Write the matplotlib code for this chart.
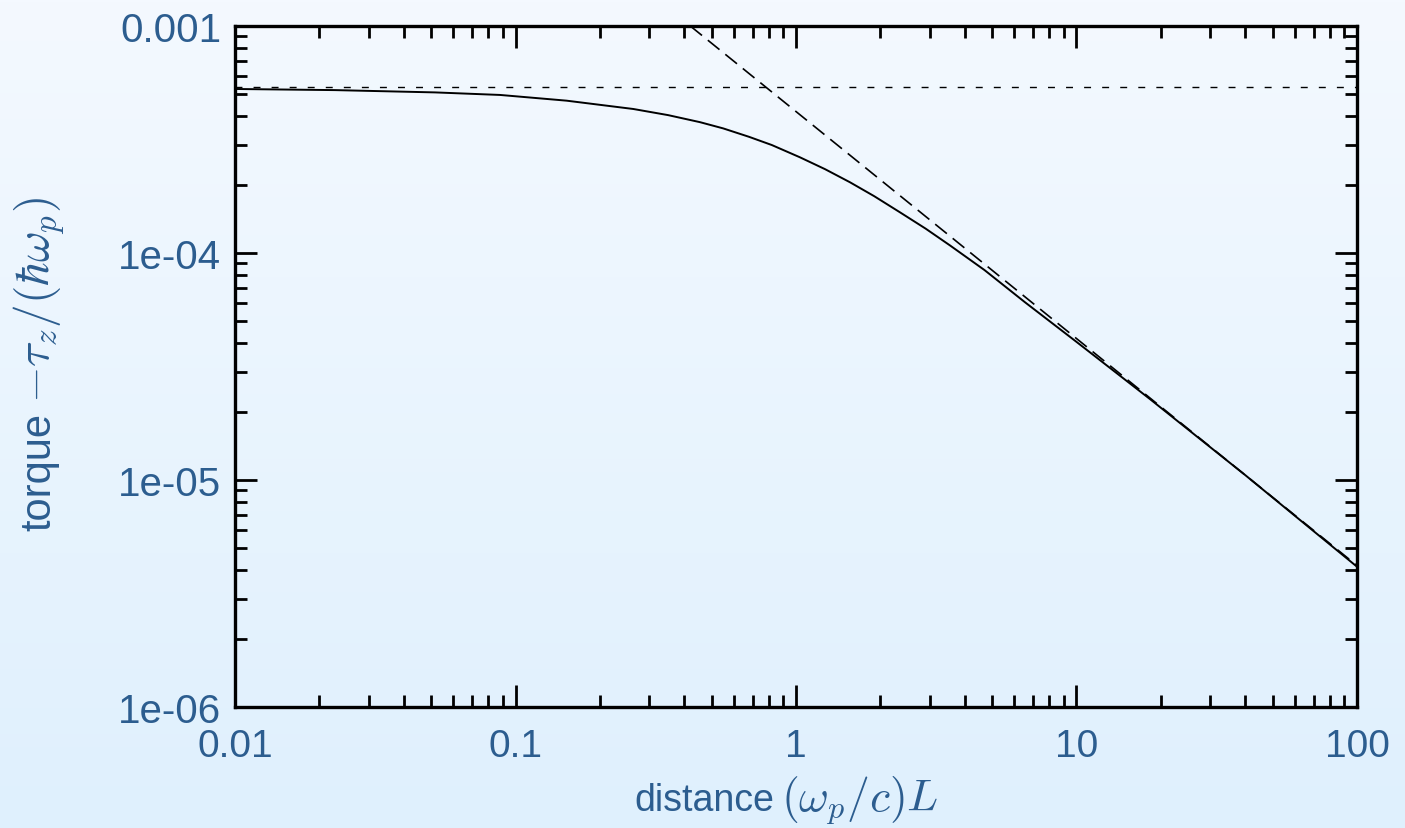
import matplotlib
matplotlib.use('Agg')

import matplotlib.pyplot as plt
from matplotlib.colors import LinearSegmentedColormap
import numpy as np

# torque curve (log-log)
dist = [0.01, 0.0227, 0.0516, 0.0881, 0.152, 0.263, 0.35, 0.455, 0.55, 0.68,
        0.82, 1.033, 1.27, 1.557, 1.9, 2.35, 2.9, 3.54, 4.7, 6.55, 10.0,
        18.3, 40.0, 100.0]
torque = [5.28e-4, 5.22e-4, 5.10e-4, 4.97e-4, 4.69e-4, 4.31e-4, 4.05e-4,
          3.77e-4, 3.54e-4, 3.25e-4, 2.99e-4, 2.64e-4, 2.34e-4, 2.05e-4,
          1.78e-4, 1.51e-4, 1.28e-4, 1.08e-4, 8.41e-5, 6.07e-5, 4.06e-5,
          2.27e-5, 1.05e-5, 4.15e-6]

# large distance asymptote (dashed) and short distance limit (dotted)
asym_x = [0.42, 100.0]
asym_y = [1.0e-3, 4.2e-6]
limit_x = [0.01, 100.0]
limit_y = [5.37e-4, 5.37e-4]

blue = '#2c5d8f'
plt.rcParams['font.family'] = ['Liberation Sans', 'DejaVu Sans']
plt.rcParams['mathtext.fontset'] = 'cm'

W, H = 1405, 829
fig = plt.figure(figsize=(W / 100, H / 100), dpi=100)

def px(x, y):
    # pixel position (from top left) -> figure fraction
    return x / W, 1 - y / H

# background gradient
bg = fig.add_axes([0, 0, 1, 1], zorder=-10)
cmap = LinearSegmentedColormap.from_list('bg', ['#f4f9ff', '#dff0fd'])
bg.imshow(np.linspace(0, 1, 256).reshape(-1, 1), aspect='auto', cmap=cmap,
          extent=[0, 1, 0, 1])
bg.axis('off')

ax = fig.add_axes([0.1673, 0.146, 0.7985, 0.8214])
ax.set_facecolor('none')
ax.set_xscale('log')
ax.set_yscale('log')
ax.set_xlim(0.01, 100)
ax.set_ylim(1e-6, 1e-3)

ax.plot(dist, torque, 'k-', lw=1.4)
ax.plot(asym_x, asym_y, color='k', lw=1.2, ls=(0, (9, 4.5)))
ax.plot(limit_x, limit_y, color='k', lw=1.0, ls=(0, (5, 8)))

for s in ax.spines.values():
    s.set_linewidth(2.4)

ax.tick_params(which='both', direction='in', top=True, right=True,
               width=2.0, colors='k', labelcolor=blue, labelsize=28)
ax.tick_params(which='major', length=16)
ax.tick_params(which='minor', length=8.5)
ax.tick_params(axis='x', pad=15)
ax.tick_params(axis='y', pad=10, labelsize=29)

ax.set_xticks([0.01, 0.1, 1, 10, 100])
ax.set_xticklabels(['0.01', '0.1', '1', '10', '100'])
ax.set_yticks([1e-6, 1e-5, 1e-4, 1e-3])
ax.set_yticklabels(['1e-06', '1e-05', '1e-04', '0.001'])

# axis labels: word and formula as two texts so the formula can be larger
fig.text(*px(774, 811), 'distance', fontsize=27, color=blue,
         ha='right', va='baseline')
fig.text(*px(781, 811), r'$(\omega_p/c)L$', fontsize=33, color=blue,
         ha='left', va='baseline')
fig.text(*px(50, 531), 'torque', fontsize=30, color=blue, rotation=90,
         rotation_mode='anchor', ha='left', va='baseline')
fig.text(*px(50, 403), r'$-\tau_z/(\hbar\omega_p)$', fontsize=34, color=blue,
         rotation=90, rotation_mode='anchor', ha='left', va='baseline')

fig.savefig('out.png', dpi=100)
